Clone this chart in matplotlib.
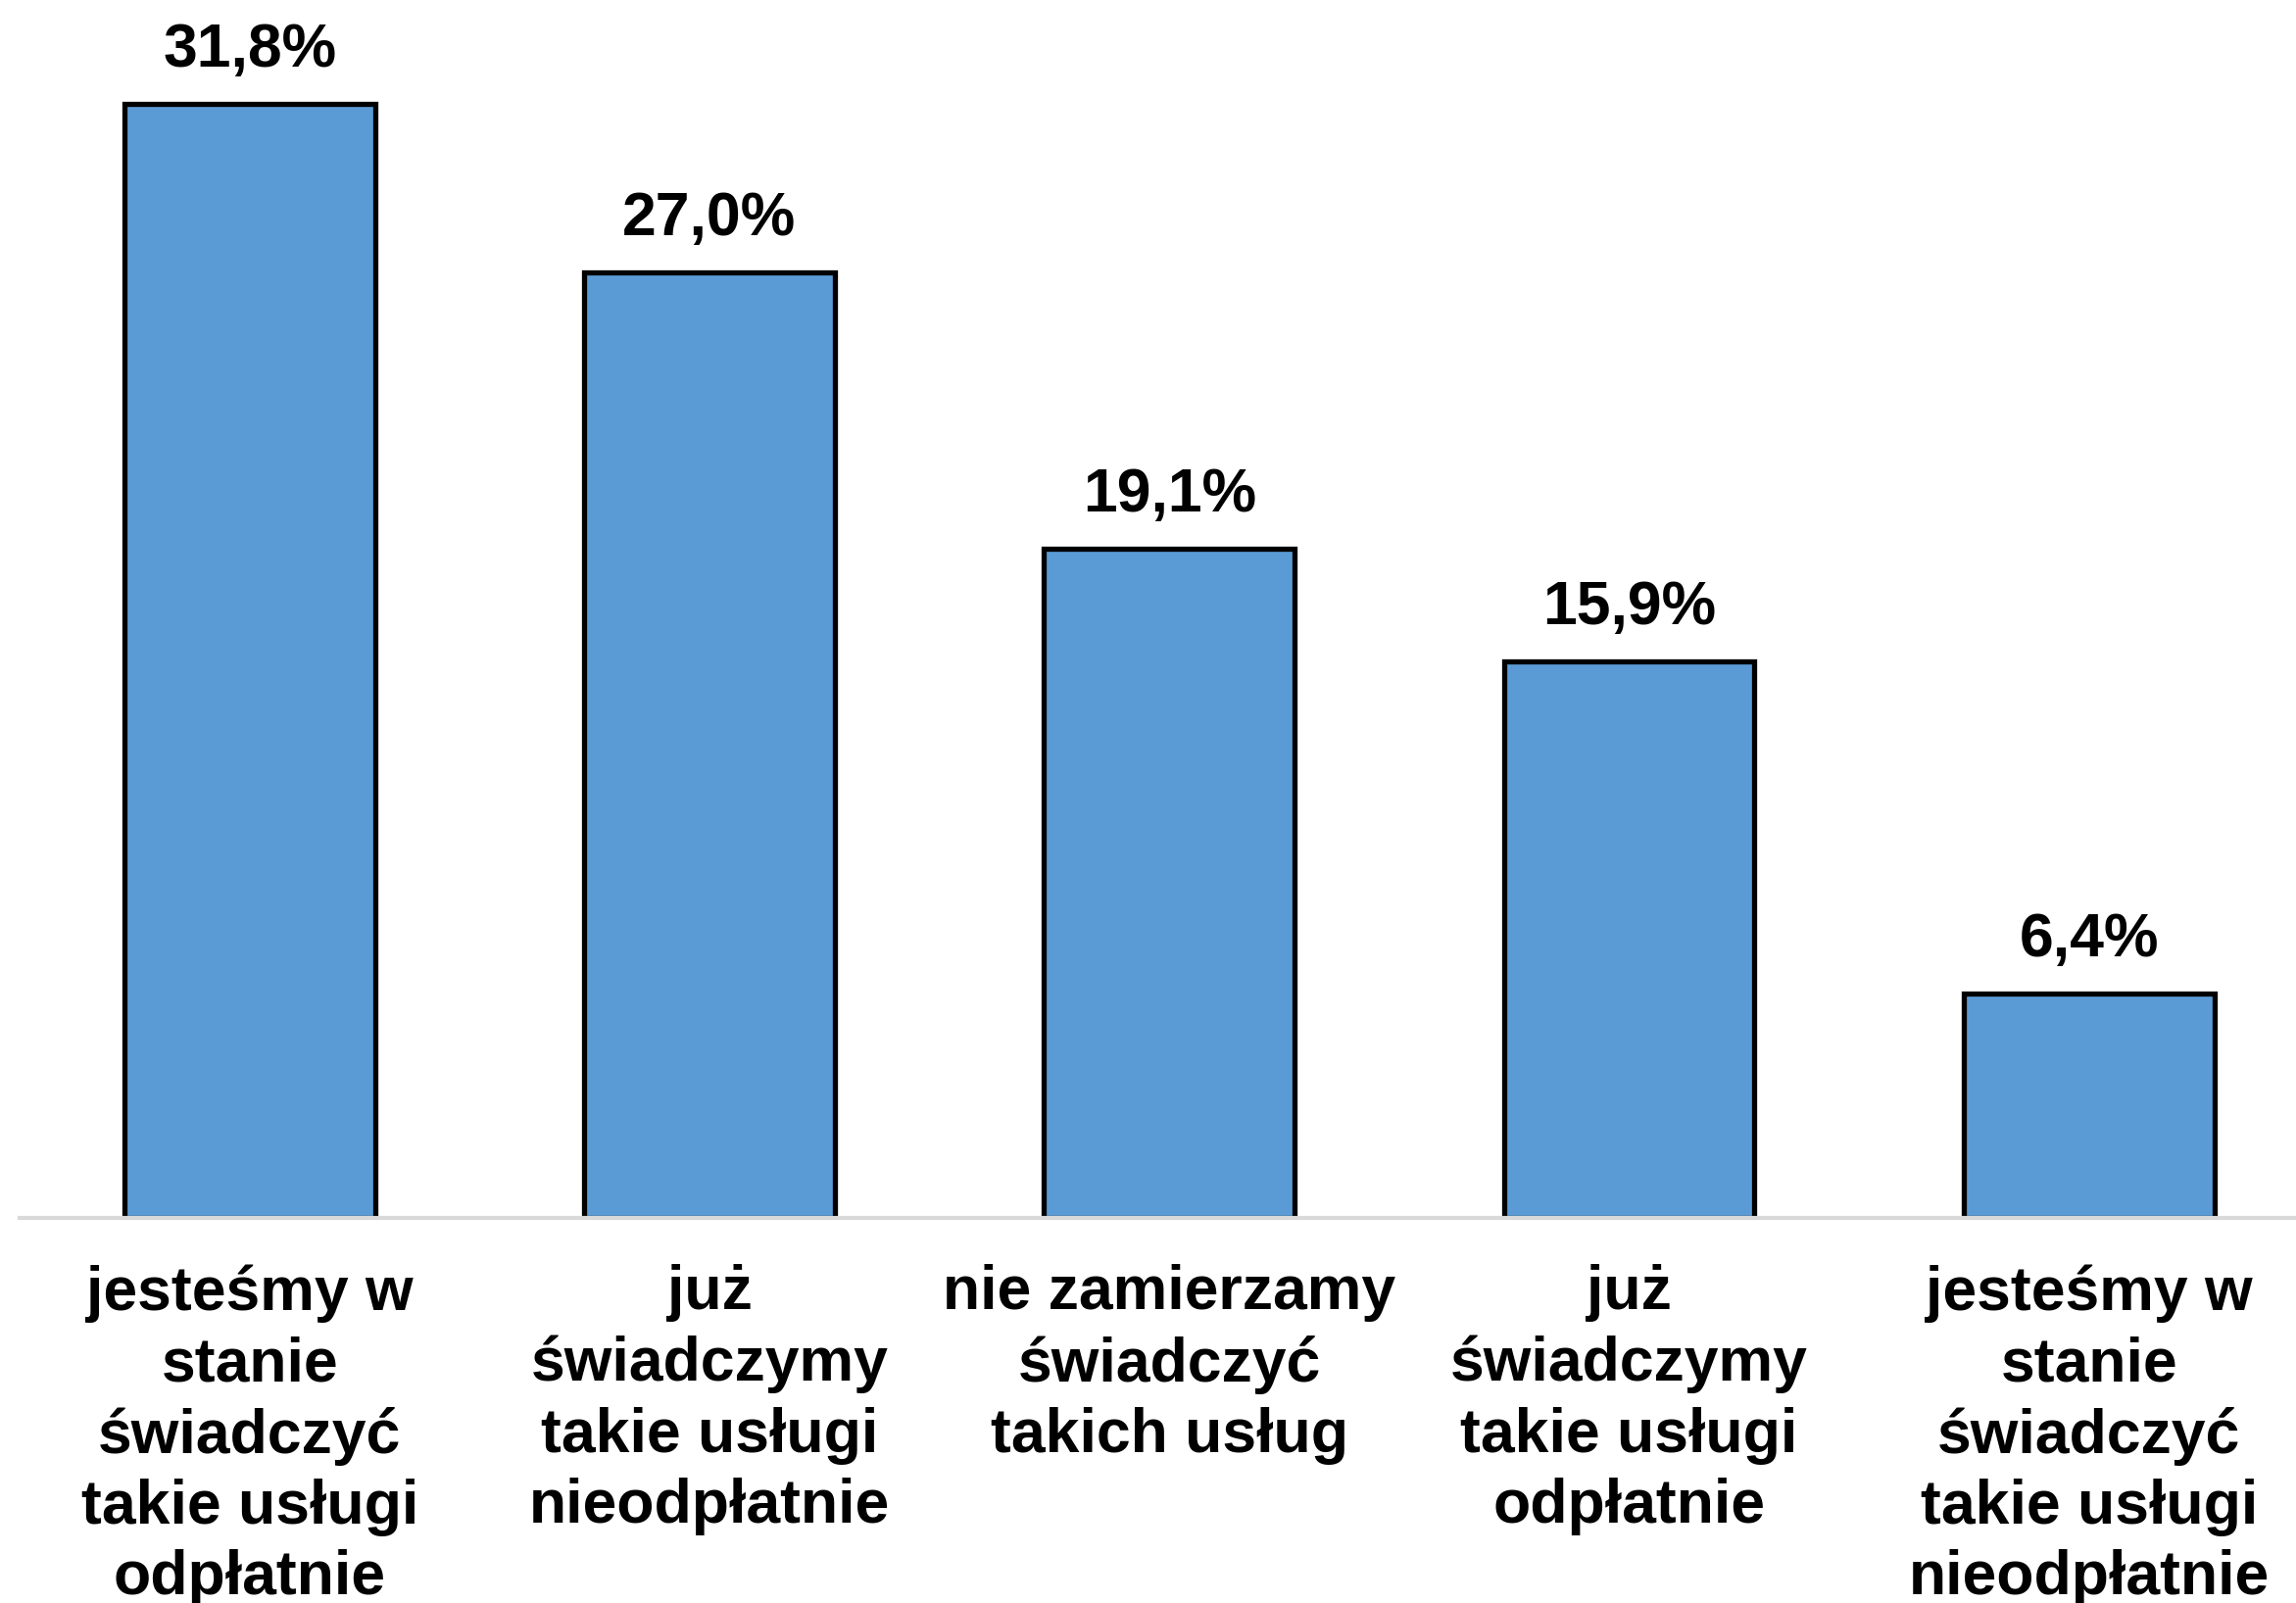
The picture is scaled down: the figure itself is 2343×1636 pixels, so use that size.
import matplotlib.pyplot as plt

categories = [
    "jesteśmy w\nstanie\nświadczyć\ntakie usługi\nodpłatnie",
    "już\nświadczymy\ntakie usługi\nnieodpłatnie",
    "nie zamierzamy\nświadczyć\ntakich usług",
    "już\nświadczymy\ntakie usługi\nodpłatnie",
    "jesteśmy w\nstanie\nświadczyć\ntakie usługi\nnieodpłatnie",
]
values = [31.8, 27.0, 19.1, 15.9, 6.4]
value_labels = ["31,8%", "27,0%", "19,1%", "15,9%", "6,4%"]

plt.rcParams['font.family'] = ['Liberation Sans', 'DejaVu Sans']
plt.rcParams['font.weight'] = 'bold'

fig = plt.figure(figsize=(23.43, 16.36), dpi=100)
ax = fig.add_axes([20 / 2343, 0.2402, 1 - 20 / 2343, 0.7598])

x = range(len(values))
bars = ax.bar(x, values, width=0.545, color='#5B9BD5', edgecolor='black', linewidth=3.8, zorder=2)

for b, lab in zip(bars, value_labels):
    ax.annotate(lab, (b.get_x() + b.get_width() / 2, b.get_height()),
                xytext=(0, 18), textcoords='offset points',
                ha='center', va='bottom', fontsize=45, fontweight='bold')

ax.set_xlim(-0.5, 4.45)
ax.set_ylim(0, 34.77)
ax.set_xticks(list(x))
ax.set_xticklabels(categories, fontsize=45, fontweight='bold', linespacing=1.29)
ax.tick_params(axis='x', length=0, pad=34)
ax.set_yticks([])

for s in ['top', 'right', 'left']:
    ax.spines[s].set_visible(False)
ax.spines['bottom'].set_color('#d9d9d9')
ax.spines['bottom'].set_linewidth(3)
ax.spines['bottom'].set_zorder(3)

fig.savefig('out.png', dpi=100)
